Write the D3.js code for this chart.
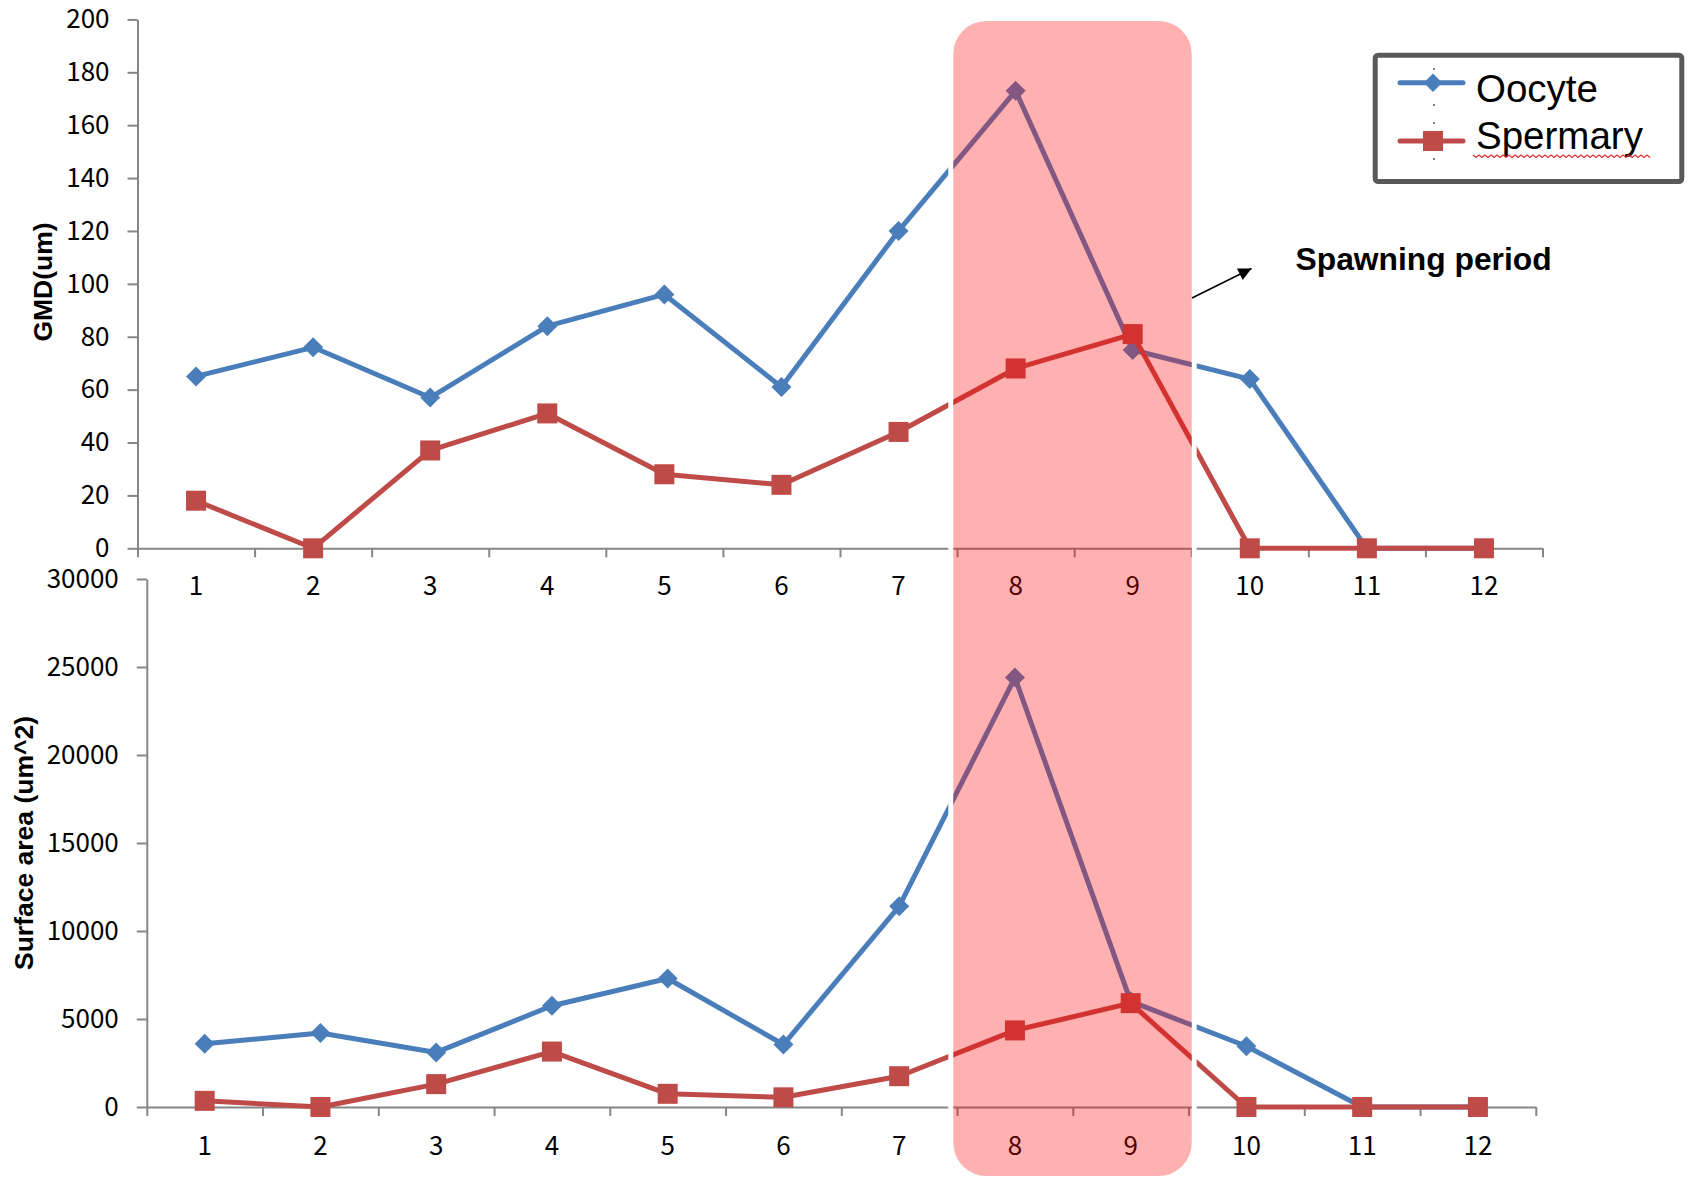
<!DOCTYPE html>
<html>
<head>
<meta charset="utf-8">
<script src="https://cdn.jsdelivr.net/npm/d3@7"></script>
<style>
  html, body { margin: 0; padding: 0; background: #fff; }
  svg { display: block; }
</style>
</head>
<body>
<svg id="chart" width="1689" height="1177"></svg>
<script>
// Months sampled
const categories = ["1","2","3","4","5","6","7","8","9","10","11","12"];

// Geometric mean diameter (um)
const gmdOocyte   = [65, 76, 57, 84, 96, 61, 120, 173, 75, 64, 0, 0];
const gmdSpermary = [18, 0, 37, 51, 28, 24, 44, 68, 81, 0, 0, 0];

// Surface area (um^2)
const areaOocyte   = [3600, 4200, 3100, 5750, 7300, 3550, 11400, 24400, 6000, 3450, 0, 0];
const areaSpermary = [350, 0, 1300, 3150, 750, 550, 1750, 4350, 5900, 0, 0, 0];

const gmdTicks  = [0, 20, 40, 60, 80, 100, 120, 140, 160, 180, 200];
const areaTicks = [0, 5000, 10000, 15000, 20000, 25000, 30000];

const seriesNames = ["Oocyte", "Spermary"];

const BLUE = "#4A7EBB";
const RED  = "#BE4B48";
const AXIS = "#868686";
const TICK_FONT = "'Noto Sans CJK KR', 'Noto Sans', sans-serif";
const TICK_SIZE = 26;

const svg = d3.select("#chart");

function drawPanel(cfg) {
  const x = d3.scaleBand().domain(categories).range(cfg.xRange);
  const xEdge = d3.scaleLinear().domain([0, categories.length]).range(cfg.xRange);
  const y = d3.scaleLinear().domain(cfg.yDomain).range(cfg.yRange);
  const g = svg.append("g");

  // y axis
  const ya = g.append("g")
    .attr("transform", `translate(${cfg.xRange[0]},0)`)
    .call(d3.axisLeft(y).tickValues(cfg.yTicks).tickFormat(d3.format("d"))
      .tickSize(10).tickSizeOuter(0).tickPadding(18));
  ya.selectAll("path, line").attr("stroke", AXIS).attr("stroke-width", 2);
  ya.selectAll("text").attr("font-family", TICK_FONT).attr("font-size", TICK_SIZE).attr("fill", "#000");

  // x axis: ticks on band boundaries
  const xb = g.append("g")
    .attr("transform", `translate(0,${cfg.yRange[0]})`)
    .call(d3.axisBottom(xEdge).ticks(categories.length).tickSize(9).tickSizeOuter(0).tickFormat(""));
  xb.selectAll("path, line").attr("stroke", AXIS).attr("stroke-width", 2);

  // x axis labels at band centres
  const xl = g.append("g")
    .attr("transform", `translate(0,${cfg.yRange[0]})`)
    .call(d3.axisBottom(x).tickSize(0).tickPadding(cfg.labelPad));
  xl.select(".domain").remove();
  xl.selectAll("text").attr("font-family", TICK_FONT).attr("font-size", TICK_SIZE).attr("fill", "#000");

  // axis title
  g.append("text")
    .attr("transform", `translate(${cfg.titleX},${cfg.titleY}) rotate(-90)`)
    .attr("text-anchor", "middle")
    .attr("font-family", "Liberation Sans, Arial, sans-serif")
    .attr("font-weight", "bold")
    .attr("font-size", 26.5)
    .text(cfg.title);

  const line = d3.line()
    .x((d, i) => x(categories[i]) + x.bandwidth() / 2)
    .y(d => y(d));

  const series = [
    { values: cfg.oocyte, color: BLUE, marker: "diamond" },
    { values: cfg.spermary, color: RED, marker: "square" }
  ];

  series.forEach(s => {
    g.append("path")
      .datum(s.values)
      .attr("fill", "none")
      .attr("stroke", s.color)
      .attr("stroke-width", 5)
      .attr("stroke-linejoin", "round")
      .attr("d", line);

    const sym = s.marker === "diamond"
      ? d3.symbol(d3.symbolSquare, 200)
      : d3.symbol(d3.symbolSquare, 400);
    g.selectAll(null)
      .data(s.values)
      .join("path")
      .attr("d", sym)
      .attr("fill", s.color)
      .attr("transform", (d, i) =>
        `translate(${x(categories[i]) + x.bandwidth() / 2},${y(d)})` +
        (s.marker === "diamond" ? " rotate(45)" : ""));
  });

  return x;
}

drawPanel({
  xRange: [137.5, 1542.5],
  yRange: [548.3, 19.4],
  yDomain: [0, 200],
  yTicks: gmdTicks,
  labelPad: 28.5,
  title: "GMD(um)",
  titleX: 52, titleY: 282,
  oocyte: gmdOocyte,
  spermary: gmdSpermary
});

drawPanel({
  xRange: [146.8, 1535.8],
  yRange: [1107, 579],
  yDomain: [0, 30000],
  yTicks: areaTicks,
  labelPad: 29.5,
  title: "Surface area (um^2)",
  titleX: 33, titleY: 843,
  oocyte: areaOocyte,
  spermary: areaSpermary
});

// Spawning period highlight over months 8-9
const box = { x: 953.3, y: 21, w: 238.4, h: 1155, r: 33 };
svg.append("rect")
  .attr("x", box.x - 2.5).attr("y", box.y - 2.5)
  .attr("width", box.w + 5).attr("height", box.h + 5)
  .attr("rx", box.r + 2.5)
  .attr("fill", "none")
  .attr("stroke", "#fff")
  .attr("stroke-width", 5);
svg.append("rect")
  .attr("x", box.x).attr("y", box.y)
  .attr("width", box.w).attr("height", box.h)
  .attr("rx", box.r)
  .attr("fill", "#FF0000")
  .attr("fill-opacity", 0.31);

// Annotation arrow and label
svg.append("defs").append("marker")
  .attr("id", "arrowHead")
  .attr("viewBox", "0 0 10 10")
  .attr("refX", 10).attr("refY", 5)
  .attr("markerUnits", "userSpaceOnUse")
  .attr("orient", "auto")
  .attr("markerWidth", 16).attr("markerHeight", 13)
  .append("path")
  .attr("d", "M0,0 L10,5 L0,10 Z")
  .attr("fill", "#000");
svg.append("line")
  .attr("x1", 1192).attr("y1", 298)
  .attr("x2", 1251.5).attr("y2", 268.5)
  .attr("stroke", "#000")
  .attr("stroke-width", 1.6)
  .attr("marker-end", "url(#arrowHead)");
svg.append("text")
  .attr("x", 1295.5).attr("y", 270)
  .attr("font-family", "Liberation Sans, Arial, sans-serif")
  .attr("font-weight", "bold")
  .attr("font-size", 31.8)
  .text("Spawning period");

// Legend
const lg = svg.append("g");
lg.append("rect")
  .attr("x", 1375.2).attr("y", 55.2)
  .attr("width", 306.6).attr("height", 126.3)
  .attr("rx", 3)
  .attr("fill", "#fff")
  .attr("stroke", "#595959")
  .attr("stroke-width", 5);
lg.append("line")
  .attr("x1", 1434).attr("x2", 1434)
  .attr("y1", 68).attr("y2", 176)
  .attr("stroke", "#808080")
  .attr("stroke-width", 2)
  .attr("stroke-dasharray", "2 16");
const legendRows = [
  { name: seriesNames[0], color: BLUE, y: 82.7, base: 101.7, marker: d3.symbol(d3.symbolSquare, 170), rot: 45 },
  { name: seriesNames[1], color: RED, y: 141, base: 149.3, marker: d3.symbol(d3.symbolSquare, 400), rot: 0 }
];
legendRows.forEach(r => {
  lg.append("line")
    .attr("x1", 1400).attr("x2", 1463)
    .attr("y1", r.y).attr("y2", r.y)
    .attr("stroke", r.color)
    .attr("stroke-width", 5)
    .attr("stroke-linecap", "round");
  lg.append("path")
    .attr("d", r.marker)
    .attr("fill", r.color)
    .attr("transform", `translate(1433,${r.y}) rotate(${r.rot})`);
  lg.append("text")
    .attr("x", 1476).attr("y", r.base)
    .attr("font-family", "Liberation Sans, Arial, sans-serif")
    .attr("font-size", 38.5)
    .attr("fill", "#000")
    .text(r.name);
});

// wavy underline beneath the second legend entry
const wave = d3.path();
wave.moveTo(1473, 155);
for (let xx = 1473, k = 0; xx < 1650; xx += 3, k++) {
  wave.lineTo(xx + 3, k % 2 === 0 ? 157.5 : 155);
}
lg.append("path")
  .attr("d", wave.toString())
  .attr("fill", "none")
  .attr("stroke", "#E03030")
  .attr("stroke-width", 1.2);
</script>
</body>
</html>
